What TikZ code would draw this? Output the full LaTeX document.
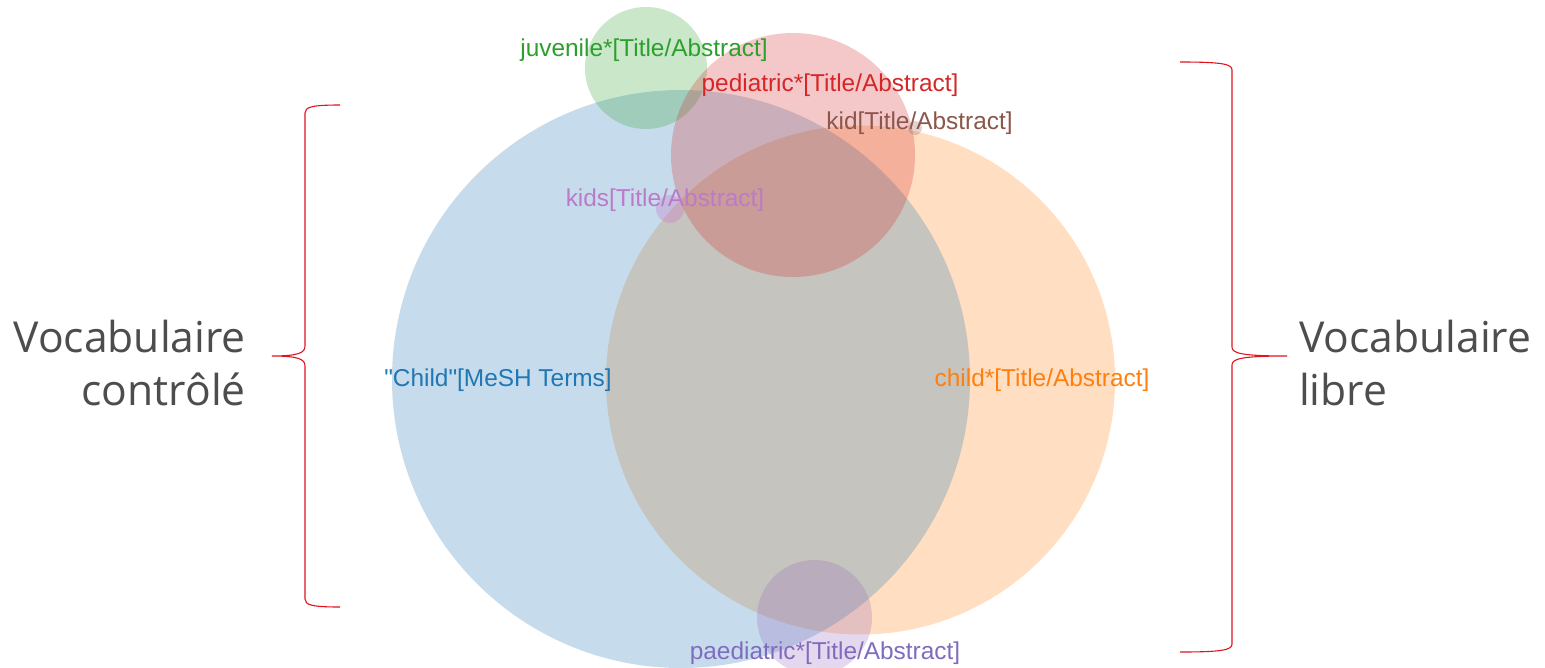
\documentclass[tikz,border=0pt]{standalone}
\usepackage{fontspec}
\setmainfont{Liberation Sans}
\newfontfamily\bigfont{Open Sans}
\begin{document}
\begin{tikzpicture}[x=1pt,y=-1pt,
  venn/.style={fill opacity=0.25},
  lab/.style={font=\fontsize{24.4}{29}\selectfont, inner sep=0pt},
  side/.style={font=\bigfont\fontsize{42.6}{53}\selectfont, text=textgray, inner sep=0pt},
  bracestyle/.style={draw=bracered, line width=1.1pt}
]
\definecolor{tblue}{HTML}{1F77B4}
\definecolor{torange}{HTML}{FF7F0E}
\definecolor{tgreen}{HTML}{2CA02C}
\definecolor{tred}{HTML}{D62728}
\definecolor{tpurple}{HTML}{9467BD}
\definecolor{tbrown}{HTML}{8C564B}
\definecolor{tpink}{HTML}{C97CCB}
\definecolor{kidstext}{RGB}{188,122,200}
\definecolor{paedtext}{RGB}{128,108,190}
\definecolor{textgray}{RGB}{77,77,77}
\definecolor{bracered}{RGB}{225,20,30}
\fill[white] (0,0) rectangle (1545,667);
\useasboundingbox (0,0) rectangle (1545,667);
% circles
\fill[venn, torange] (860.5,380) circle[radius=254.5pt];
\fill[venn, tblue] (681,379) circle[radius=289pt];
\fill[venn, tgreen] (646,68) circle[radius=61pt];
\fill[venn, tred] (793,155) circle[radius=122pt];
\fill[venn, tpink, fill opacity=0.35] (670,209) circle[radius=14pt];
\fill[venn, tbrown] (915,128) circle[radius=7pt];
\fill[venn, tpurple] (814.5,617.5) circle[radius=57.5pt];
% labels
\node[lab, text=tgreen] (juv) at (644,50.5) {juvenile*[Title/Abstract]};
\node[lab, text=tred] (ped) at (830,85.5) {pediatric*[Title/Abstract]};
\node[lab, text=tbrown] (kid) at (919.5,123.5) {kid[Title/Abstract]};
\node[lab, text=kidstext] (kids) at (665,200.5) {kids[Title/Abstract]};
\node[lab, text=tblue] (mesh) at (498,380.5) {\textquotedbl Child\textquotedbl[MeSH Terms]};
\node[lab, text=torange] (childs) at (1042,380.5) {child*[Title/Abstract]};
\node[lab, text=paedtext] (paed) at (825,653.5) {paediatric*[Title/Abstract]};
% side labels
\node[side, anchor=base east] (vc1) at (246,352) {Vocabulaire};
\node[side, anchor=base east] (vc2) at (246,405) {contrôlé};
\node[side, anchor=base west] (vl1) at (1299,352) {Vocabulaire};
\node[side, anchor=base west] (vl2) at (1299,405) {libre};
% braces
\draw[bracestyle] (340,105) .. controls (312,105) and (305,107) .. (305,113)
  -- (305,346) .. controls (305,353) and (298,356) .. (272,356)
  .. controls (298,356) and (305,359) .. (305,366)
  -- (305,599) .. controls (305,605) and (312,607) .. (340,607);
\draw[bracestyle] (1180,62) .. controls (1222,62) and (1232,64) .. (1232,70)
  -- (1232,347) .. controls (1232,353) and (1240,356) .. (1287,356)
  .. controls (1240,356) and (1232,359) .. (1232,365)
  -- (1232,644) .. controls (1232,650) and (1222,652) .. (1180,652);
\end{tikzpicture}
\end{document}
